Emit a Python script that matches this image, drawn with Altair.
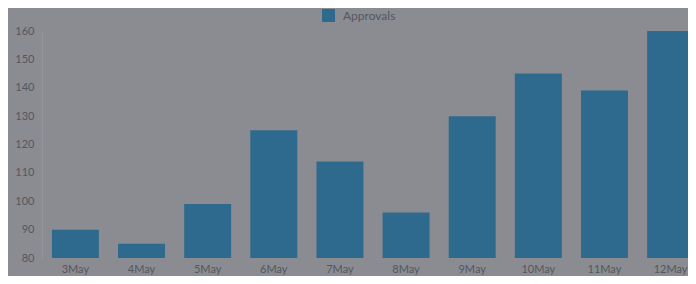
import altair as alt
import pandas as pd

days = ["3May", "4May", "5May", "6May", "7May", "8May", "9May", "10May", "11May", "12May"]
approvals = [90, 85, 99, 125, 114, 96, 130, 145, 139, 160]
series_name = "Approvals"
y_ticks = [80, 90, 100, 110, 120, 130, 140, 150, 160]

df = pd.DataFrame({"day": days, "value": approvals, "series": [series_name] * len(days)})

BG = "#8a8c92"
TXT = "#54575f"
FONT = "Lato"

chart = alt.Chart(df).mark_bar(color="#2d6a8e", clip=True).encode(
    x=alt.X("day:N", sort=days, title=None,
            scale=alt.Scale(paddingInner=0.29, paddingOuter=0.15),
            axis=alt.Axis(labelAngle=0, labelColor=TXT, labelFont=FONT, labelFontSize=11,
                          domain=False, ticks=False, labelPadding=5)),
    y=alt.Y("value:Q", title=None,
            scale=alt.Scale(domain=[80, 160], nice=False, zero=False),
            axis=alt.Axis(values=y_ticks, labelColor=TXT, labelFont=FONT, labelFontSize=11,
                          grid=False, ticks=False, domain=True, domainColor="#93959b",
                          domainWidth=1, labelPadding=8)),
    fill=alt.Fill("series:N", scale=alt.Scale(range=["#2d6a8e"]),
                  legend=alt.Legend(title=None, orient="none", legendX=280, legendY=-22,
                                    symbolType="square", symbolSize=169, symbolStrokeWidth=0,
                                    labelOffset=8,
                                    labelColor=TXT, labelFont=FONT, labelFontSize=12)),
).properties(
    width=662, height=227,
    autosize=alt.AutoSizeParams(type="none"),
    padding={"left": 34, "top": 23, "right": -16, "bottom": 18},
    background=BG,
).configure_view(stroke=None)

chart.save("out.html", embed_options={"renderer": "svg", "actions": False})
